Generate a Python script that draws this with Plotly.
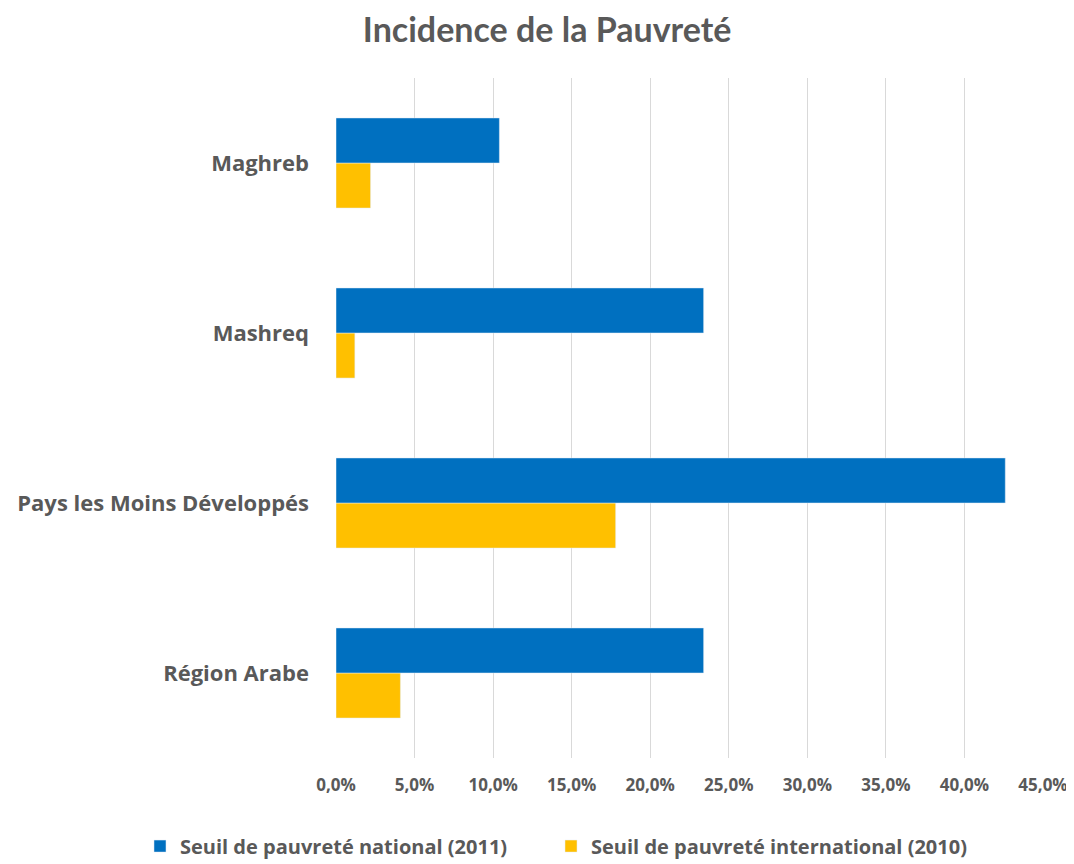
import plotly.graph_objects as go

# --- DONNÉES ---
categories = ["Maghreb", "Mashreq", "Pays les Moins Développés", "Région Arabe"]
national_2011 = [0.104, 0.234, 0.426, 0.234]
international_2010 = [0.022, 0.012, 0.178, 0.041]
tick_vals = [0, 0.05, 0.10, 0.15, 0.20, 0.25, 0.30, 0.35, 0.40, 0.45]

label_font = "'Open Sans', Lato, sans-serif"
title_font = "Lato, 'Open Sans', sans-serif"
grey = "#595959"

fig = go.Figure()

# jaune d'abord pour que le bleu soit au-dessus dans chaque groupe
fig.add_trace(go.Bar(
    y=categories,
    x=international_2010,
    name="Seuil de pauvreté international (2010)",
    orientation="h",
    marker=dict(color="#FFC000"),
    legend="legend2",
))
fig.add_trace(go.Bar(
    y=categories,
    x=national_2011,
    name="Seuil de pauvreté national (2011)",
    orientation="h",
    marker=dict(color="#0070C0"),
    legend="legend",
))

legend_style = dict(
    orientation="h",
    xref="container", yref="container",
    xanchor="left", yanchor="middle",
    y=0.03,
    font=dict(size=20, color=grey, family=label_font, weight="bold"),
    itemwidth=30,
)

fig.update_layout(
    width=1074,
    height=864,
    title=dict(
        text="<b>Incidence de la Pauvreté</b>",
        xref="container", yref="container",
        x=0.502, xanchor="center",
        y=0.975, yanchor="middle",
        font=dict(family=title_font, size=34, color=grey),
    ),
    barmode="group",
    bargap=0.47,
    bargroupgap=0,
    separators=",.",
    plot_bgcolor="white",
    paper_bgcolor="white",
    font=dict(family=label_font, color=grey, size=18),
    xaxis=dict(
        range=[0, 0.45],
        tickvals=tick_vals,
        tickformat=".1%",
        showgrid=True,
        gridcolor="#D9D9D9",
        gridwidth=1,
        zeroline=False,
        showline=False,
        ticks="",
        automargin=False,
        ticklabelstandoff=15,
        tickfont=dict(size=17, color=grey, family=label_font, weight="bold"),
    ),
    yaxis=dict(
        categoryorder="array",
        categoryarray=list(reversed(categories)),
        showgrid=False,
        zeroline=False,
        ticks="",
        automargin=False,
        ticklabelstandoff=26,
        tickfont=dict(size=22, color=grey, family=label_font, weight="bold"),
    ),
    legend=dict(legend_style, x=0.1229),
    legend2=dict(legend_style, x=0.5056),
    showlegend=True,
    margin=dict(t=70, b=114, l=328, r=39),
)

fig.write_html("out.html")
